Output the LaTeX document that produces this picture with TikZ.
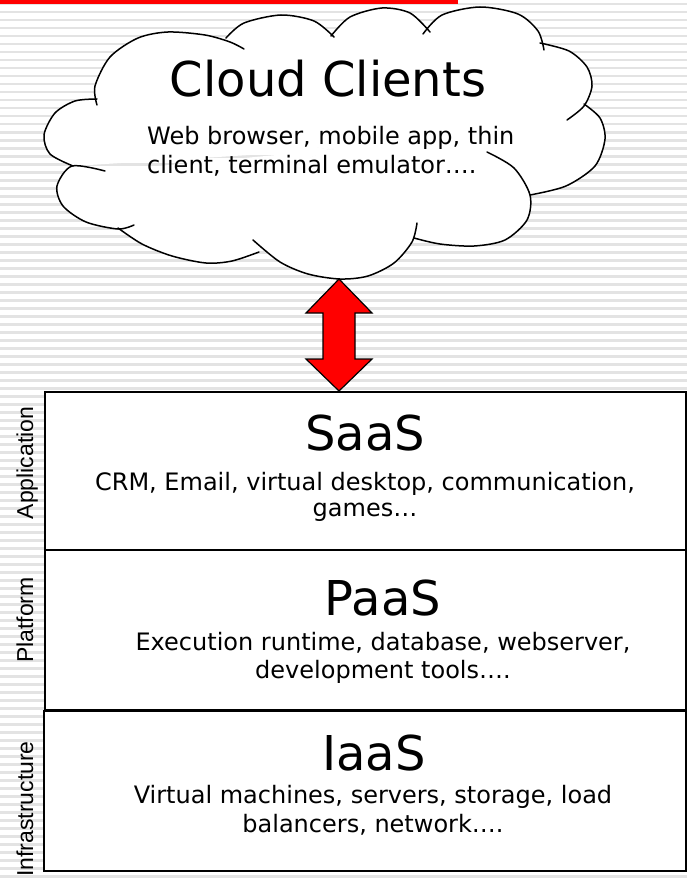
\documentclass[tikz,border=0pt]{standalone}
\usepackage{fontspec}
\setmainfont{DejaVu Sans}
\newfontfamily\sidefont{Liberation Sans}
\usetikzlibrary{calc}

% cloud puffs, one curve each
\newcommand\puffA{plot[smooth] coordinates {(97,105) (95,86) (110,57) (138,38) (168,32) (205,35) (230,42) (244,49)}}
\newcommand\puffB{plot[smooth] coordinates {(226,38) (244,23) (281,15) (314,21) (334,37)}}
\newcommand\puffC{plot[smooth] coordinates {(331,36) (350,17) (382,8) (410,13) (430,32)}}
\newcommand\puffD{plot[smooth] coordinates {(423,34) (442,15) (480,7) (518,14) (538,31) (544,50)}}
\newcommand\puffE{plot[smooth] coordinates {(540,43) (569,51) (587,67) (592,86) (584,106) (567,120)}}
\newcommand\puffF{plot[smooth] coordinates {(584,104) (600,118) (605,139) (595,166) (566,186) (530,195)}}
\newcommand\puffG{plot[smooth] coordinates {(487,152) (514,168) (530,195) (527,220) (505,240) (474,246) (440,244) (414,238)}}
\newcommand\puffH{plot[smooth] coordinates {(417,223) (412,242) (394,263) (368,276) (340,279) (308,274) (280,262) (253,240)}}
\newcommand\puffI{plot[smooth] coordinates {(259,252) (232,261) (206,263) (172,256) (142,244) (118,228)}}
\newcommand\puffJ{plot[smooth] coordinates {(105,171) (72,166) (57,186) (63,206) (86,222) (118,229) (134,225)}}
\newcommand\puffK{plot[smooth] coordinates {(73,166) (50,154) (44,135) (55,113) (75,101) (97,99)}}

\begin{document}
\begin{tikzpicture}[x=1pt, y=-1pt,
    layer/.style={rectangle, draw, line width=2pt, fill=white, minimum width=641pt, inner sep=0pt},
    title/.style={anchor=base, inner sep=0pt, font=\fontsize{48}{50}\selectfont},
    desc/.style={anchor=base, inner sep=0pt, font=\fontsize{24}{26}\selectfont},
    side/.style={anchor=base, rotate=90, inner sep=0pt, font=\sidefont\fontsize{23}{25}\selectfont},
    puff/.style={line width=1.5pt, line cap=round},
    fatarrow/.style={fill=red, draw=black, line width=1.2pt, line join=miter}]
        \useasboundingbox (0,0) rectangle (687,880);

        % Background
        \foreach \y in {3,11,...,875}
            \fill[black!11] (0,\y) rectangle (687,\y+2.5);
        \fill[red] (0,0) rectangle (458,4);

        % Cloud
        \foreach \p in {A,B,C,D,E,F,G,H,I,J,K}
            \fill[white] \csname puff\p\endcsname -- (330,150) -- cycle;
        \foreach \p in {A,B,C,D,E,F,G,H,I,J,K}
            \draw[puff] \csname puff\p\endcsname;

        % Nodes
        \node (cloudtitle) [title] at (328,97) {Cloud Clients};
        \node (cloudline1) [desc, anchor=base west] at (147,144) {Web browser, mobile app, thin};
        \node (cloudline2) [desc, anchor=base west] at (147,173) {client, terminal emulator….};

        \node (saas) [layer, minimum height=158pt] at (365.5,471) {};
        \node (paas) [layer, minimum height=160pt] at (365.5,630) {};
        \node (iaas) [layer, minimum height=160pt, minimum width=642pt] at (365,791) {};

        \node (saastitle) [title] at (365,450) {SaaS};
        \node (saasline1) [desc] at (365,490) {CRM, Email, virtual desktop, communication,};
        \node (saasline2) [desc] at (365,516) {games…};

        \node (paastitle) [title] at (383,615) {PaaS};
        \node (paasline1) [desc] at (383,650) {Execution runtime, database, webserver,};
        \node (paasline2) [desc] at (383,678) {development tools….};

        \node (iaastitle) [title] at (374,770) {IaaS};
        \node (iaasline1) [desc] at (373,803) {Virtual machines, servers, storage, load};
        \node (iaasline2) [desc] at (373,832) {balancers, network….};

        \node (applabel) [side] at (33,463) {Application};
        \node (platlabel) [side] at (33,620) {Platform};
        \node (infralabel) [side] at (33,809) {Infrastructure};

        % Arrows
        \coordinate (linktop) at (339,279);
        \coordinate (linkbot) at (339,391);
        \draw[fatarrow] (linktop) -- ++(33,34) -- ++(-17,0) -- ($(linkbot)+(16,-32)$) -- ++(17,0)
            -- (linkbot) -- ++(-33,-32) -- ++(17,0) -- ($(linktop)+(-16,34)$) -- ++(-17,0) -- cycle;
    \end{tikzpicture}
\end{document}
